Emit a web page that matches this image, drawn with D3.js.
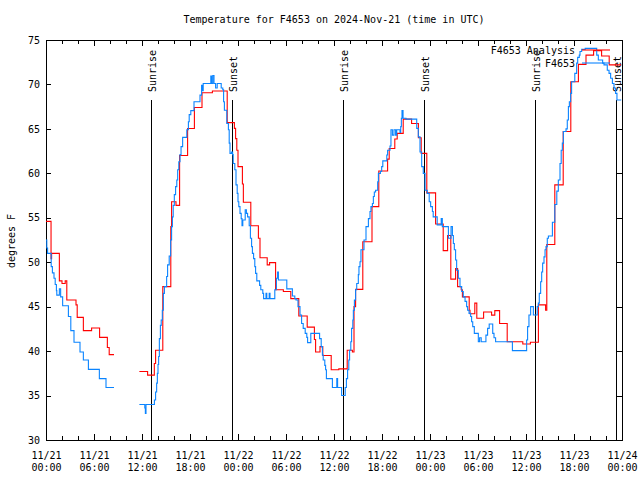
<!DOCTYPE html>
<html><head><meta charset="utf-8">
<script src="https://cdn.jsdelivr.net/npm/d3@7"></script>
<style>body{margin:0;background:#fff}</style>
</head><body><svg id="c" width="640" height="480"></svg>
<script>
const titleText = "Temperature for F4653 on 2024-Nov-21 (time in UTC)";
const yLabelText = "degrees F";
const yTicks = [30,35,40,45,50,55,60,65,70,75];
const xMinorHours = d3.range(0, 73, 2);
const xMajorHours = [0,6,12,18,24,30,36,42,48,54,60,66,72];
const xTickDates = ["11/21","11/21","11/21","11/21","11/22","11/22","11/22","11/22","11/23","11/23","11/23","11/23","11/24"];
const xTickTimes = ["00:00","06:00","12:00","18:00","00:00","06:00","12:00","18:00","00:00","06:00","12:00","18:00","00:00"];
const sunHours = [13.16, 23.29, 37.16, 47.29, 61.16, 71.19];
const sunLabels = ["Sunrise","Sunset","Sunrise","Sunset","Sunrise","Sunset"];
const seriesNames = ["F4653 Analysis", "F4653"];
const seriesColors = ["#ff0000", "#0a84ff"];

// analysis (hours since 11/21 00:00, deg F), step-after
const analysisSeg1 = [[0,54.6],[0.63,50.4],[0.7,51.0],[1.67,47.9],[2.0,47.6],[2.4,47.9],[2.6,45.75],[3.75,45.2],[3.9,43.8],[4.67,42.3],[5.7,42.6],[6.7,41.55],[7.67,40.4],[7.9,39.6],[8.5,39.6]];
const analysisSeg2 = [[11.67,37.7],[12.7,37.3],[13.54,38.6],[13.7,40.1],[14.6,47.25],[15.6,54.0],[15.7,56.8],[16.25,56.4],[16.7,62.0],[17.7,65.05],[18.55,67.4],[19.5,69.07],[20.8,69.26],[22.65,65.7],[23.55,65.06],[23.7,63.9],[23.85,62.6],[24.0,60.75],[24.55,58.8],[24.67,56.74],[25.6,54.1],[26.55,52.7],[26.75,50.5],[27.65,49.7],[27.95,49.95],[28.7,46.9],[29.67,46.7],[30.6,45.9],[31.6,43.95],[32.65,42.7],[33.55,41.3],[33.7,39.9],[34.25,40.5],[34.6,39.5],[35.65,37.9],[36.6,38.0],[37.65,40.1],[38.3,39.9],[38.5,45.0],[38.7,46.95],[39.6,52.3],[40.75,56.25],[41.6,60.26],[42.7,61.6],[42.9,62.8],[43.6,63.86],[43.9,64.5],[44.65,66.1],[45.7,65.6],[46.55,64.0],[46.9,62.25],[47.6,57.8],[48.7,54.3],[49.65,51.3],[50.2,53.0],[50.6,48.1],[51.2,49.3],[51.45,47.25],[51.9,46.9],[52.05,46.1],[52.9,44.6],[53.0,44.2],[53.6,45.4],[53.85,43.7],[54.7,44.4],[55.7,44.05],[56.1,44.55],[56.7,43.1],[57.65,41.06],[59.6,40.8],[60.55,41.0],[61.55,45.2],[62.45,44.6],[62.6,52.0],[63.6,58.7],[64.65,64.7],[65.6,70.3],[66.55,72.26],[67.5,73.3],[68.45,73.8],[69.45,73.2],[70.4,72.2],[71.9,72.2]];

// observations
const obsSeg1 = [[0,52.5],[0.1,51.6],[0.2,51.0],[0.65,49.5],[0.8,48.8],[1.0,48.2],[1.15,47.5],[1.3,46.8],[1.35,46.3],[1.67,47.0],[1.83,46.1],[2.08,45.1],[2.8,43.9],[3.1,42.3],[3.5,41.0],[4.25,39.9],[4.67,39.0],[5.3,37.95],[6.67,36.9],[7.5,35.9],[8.5,35.9]];
const obsSeg2 = [[11.67,34.0],[12.35,33.6],[12.42,33.0],[12.5,34.0],[13.55,34.5],[13.7,35.4],[13.83,36.4],[13.92,37.5],[14.0,38.5],[14.08,39.4],[14.17,41.4],[14.3,42.9],[14.4,43.5],[14.54,44.6],[14.67,46.5],[14.8,47.25],[15.08,48.4],[15.2,49.7],[15.4,50.7],[15.58,52.5],[15.7,54.0],[15.8,55.1],[15.9,56.4],[16.04,57.6],[16.2,58.5],[16.35,59.25],[16.46,60.4],[16.6,61.3],[16.75,62.1],[16.88,63.0],[17.08,64.05],[17.6,64.9],[17.8,65.8],[17.9,66.6],[18.1,67.05],[18.5,68.06],[19.25,68.8],[19.45,69.9],[19.55,69.3],[19.65,70.1],[20.6,70.95],[20.7,70.1],[20.85,71.0],[21.0,70.1],[21.2,69.6],[21.4,70.1],[21.9,69.6],[22.1,69.4],[22.2,68.06],[22.3,67.1],[22.6,65.6],[22.8,64.9],[22.9,63.4],[23.0,62.25],[23.2,62.4],[23.33,62.1],[23.4,61.1],[23.6,60.4],[23.75,58.7],[23.9,57.75],[24.0,56.8],[24.1,56.25],[24.25,55.5],[24.4,54.9],[24.5,54.1],[24.6,54.75],[24.9,55.9],[25.05,55.5],[25.2,55.1],[25.4,54.1],[25.55,52.7],[25.7,51.75],[25.8,51.0],[25.95,50.4],[26.1,49.5],[26.2,48.75],[26.35,47.9],[26.7,47.4],[26.85,46.9],[27.1,46.5],[27.2,45.9],[27.5,46.5],[27.6,45.9],[27.9,46.5],[28.0,45.9],[28.6,46.9],[28.8,48.2],[28.95,48.9],[29.05,48.0],[30.1,47.0],[30.8,46.2],[31.1,45.9],[31.25,45.75],[31.5,45.0],[31.75,44.06],[31.95,43.1],[32.15,42.56],[32.4,42.0],[32.6,41.55],[32.7,40.95],[33.1,42.0],[34.2,41.4],[34.4,40.5],[34.55,39.56],[34.65,39.0],[34.85,38.4],[34.95,37.9],[35.05,36.9],[35.8,35.9],[36.35,36.9],[36.45,35.9],[36.95,35.0],[37.4,35.9],[37.55,36.9],[37.7,37.9],[37.85,39.0],[37.95,40.1],[38.1,41.06],[38.2,42.56],[38.35,43.5],[38.42,44.6],[38.55,45.75],[38.7,46.9],[38.84,47.6],[39.04,48.6],[39.12,49.5],[39.25,50.06],[39.37,51.4],[39.75,52.5],[40.0,54.0],[40.3,54.9],[40.5,55.7],[40.62,56.25],[40.8,56.6],[40.92,57.4],[41.04,57.9],[41.2,58.1],[41.46,59.06],[41.55,60.0],[41.8,60.2],[41.96,60.75],[42.1,61.4],[42.6,62.06],[42.7,62.6],[43.0,63.07],[43.12,64.9],[43.3,64.3],[43.5,64.9],[43.7,64.3],[43.84,64.9],[44.25,64.6],[44.34,65.25],[44.42,66.2],[44.5,67.05],[44.63,66.2],[45.0,66.1],[46.34,65.06],[46.54,64.1],[46.75,62.4],[46.96,60.75],[47.16,60.0],[47.38,58.1],[47.66,57.75],[47.9,56.8],[48.08,56.25],[48.3,55.7],[48.4,55.1],[48.9,54.2],[49.4,54.9],[49.54,54.0],[50.3,52.7],[50.63,54.0],[50.8,53.0],[50.92,52.1],[51.04,51.4],[51.2,50.25],[51.33,49.1],[51.54,48.2],[51.75,47.25],[51.96,46.7],[52.16,46.1],[52.38,45.6],[52.58,45.0],[52.7,44.6],[52.88,44.25],[53.08,43.9],[53.2,43.3],[53.34,42.75],[53.54,42.0],[54.04,41.06],[54.2,41.5],[54.4,41.06],[54.99,41.8],[55.2,42.56],[55.4,43.05],[55.84,42.0],[56.0,41.5],[56.2,41.06],[58.3,40.05],[60.08,41.25],[60.2,42.75],[60.37,44.06],[60.58,45.0],[60.92,44.06],[61.4,45.0],[61.54,45.4],[61.66,46.5],[61.83,47.8],[61.96,48.9],[62.08,49.9],[62.25,50.6],[62.38,51.4],[62.5,51.75],[62.66,52.7],[62.8,52.95],[63.3,54.5],[63.6,56.5],[63.85,58.0],[64.04,59.25],[64.25,61.1],[64.4,62.6],[64.54,63.4],[64.67,64.7],[65.0,65.0],[65.16,66.0],[65.3,67.5],[65.42,68.06],[65.58,69.0],[65.7,70.3],[66.1,71.25],[66.33,72.4],[66.46,73.05],[66.66,73.3],[66.75,73.7],[66.96,73.95],[67.4,74.06],[68.84,73.3],[69.04,72.75],[69.58,72.4],[69.75,72.2],[70.16,71.6],[70.38,71.25],[70.58,70.7],[70.8,70.1],[71.0,69.6],[71.2,69.0],[71.37,68.25],[71.9,68.25]];

const svg = d3.select("#c");
const font = "'DejaVu Sans Mono', 'Liberation Mono', monospace";
const L = 46, R = 622, T = 40, B = 440;
const x = d3.scaleLinear().domain([0, 72]).range([L, R]);
const y = d3.scaleLinear().domain([30, 75]).range([B, T]);

svg.append("rect").attr("width",640).attr("height",480).attr("fill","#fff");

const g = svg.append("g").attr("font-family", font).attr("font-size", 10).attr("fill", "#000");

// title
g.append("text").attr("x", (L+R)/2).attr("y", 23).attr("text-anchor","middle").text(titleText);
// y label
g.append("text").attr("transform", "translate(15,241) rotate(-90)").attr("text-anchor","middle").text(yLabelText);

function styleAxis(sel){
  sel.select(".domain").remove();
  sel.selectAll(".tick line").attr("stroke","#000").attr("shape-rendering","crispEdges");
  sel.selectAll("text").attr("font-family", font).attr("font-size", 10).attr("fill","#000");
}
// y axes
svg.append("g").attr("transform",`translate(${L},0)`)
  .call(d3.axisLeft(y).tickValues(yTicks).tickSizeInner(-5).tickSizeOuter(0).tickPadding(6).tickFormat(d3.format("d")))
  .call(styleAxis);
svg.append("g").attr("transform",`translate(${R},0)`)
  .call(d3.axisRight(y).tickValues(yTicks).tickSizeInner(-5).tickSizeOuter(0).tickFormat(""))
  .call(styleAxis);
// x axes minor ticks
svg.append("g").attr("transform",`translate(0,${B})`)
  .call(d3.axisBottom(x).tickValues(xMinorHours).tickSizeInner(-4).tickSizeOuter(0).tickFormat(""))
  .call(styleAxis);
svg.append("g").attr("transform",`translate(0,${T})`)
  .call(d3.axisTop(x).tickValues(xMinorHours).tickSizeInner(-4).tickSizeOuter(0).tickFormat(""))
  .call(styleAxis);
// x axes major ticks and labels
const xb = svg.append("g").attr("transform",`translate(0,${B})`)
  .call(d3.axisBottom(x).tickValues(xMajorHours).tickSizeInner(-6).tickSizeOuter(0).tickFormat(""))
  .call(styleAxis);
xb.selectAll(".tick").each(function(d, i){
  const t = d3.select(this).append("text").attr("fill","#000").attr("text-anchor","middle")
    .attr("font-family", font).attr("font-size", 10);
  t.append("tspan").attr("x",0).attr("y",19).text(xTickDates[i]);
  t.append("tspan").attr("x",0).attr("y",31).text(xTickTimes[i]);
});
svg.append("g").attr("transform",`translate(0,${T})`)
  .call(d3.axisTop(x).tickValues(xMajorHours).tickSizeInner(-6).tickSizeOuter(0).tickFormat(""))
  .call(styleAxis);

// frame
svg.append("rect").attr("x",L+0.5).attr("y",T+0.5).attr("width",R-L).attr("height",B-T)
  .attr("fill","none").attr("stroke","#000").attr("shape-rendering","crispEdges");

// sunrise / sunset
const sun = svg.append("g");
sunHours.forEach((h,i)=>{
  const px = Math.round(x(h)) + 0.5;
  sun.append("line").attr("x1",px).attr("x2",px).attr("y1",B).attr("y2",T+60)
    .attr("stroke","#000").attr("shape-rendering","crispEdges");
  sun.append("text").attr("transform",`translate(${px+4},${T+52}) rotate(-90)`)
    .attr("font-family",font).attr("font-size",10).attr("fill","#000").text(sunLabels[i]);
});

// data lines
const line = d3.line().x(d=>x(d[0])).y(d=>y(d[1])).curve(d3.curveStepAfter);
[[analysisSeg1, 0],[analysisSeg2, 0],[obsSeg1, 1],[obsSeg2, 1]].forEach(([data, k])=>{
  svg.append("path").datum(data).attr("d", line).attr("fill","none")
    .attr("stroke", seriesColors[k]).attr("stroke-width", 1.1);
});

// legend
const leg = svg.append("g");
seriesNames.forEach((n,i)=>{
  const ly = 50 + i*13;
  leg.append("text").attr("x",575).attr("y",ly+3.5).attr("text-anchor","end")
    .attr("font-family",font).attr("font-size",10).attr("fill","#000").text(n);
  leg.append("line").attr("x1",582).attr("x2",610).attr("y1",ly).attr("y2",ly)
    .attr("stroke",seriesColors[i]).attr("stroke-width",1.1);
});
</script></body></html>
